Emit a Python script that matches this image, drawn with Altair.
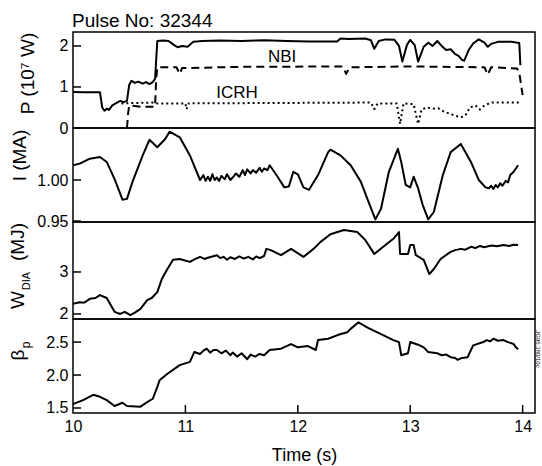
import altair as alt
import pandas as pd

FONT = "Liberation Sans"

# ---------------- data: (time s, value) ----------------
# Panel 1: heating power P (10^7 W)
p_total = [(10.00, 0.88), (10.10, 0.87), (10.24, 0.87), (10.26, 0.50), (10.28, 0.42),
           (10.30, 0.47), (10.32, 0.44), (10.35, 0.55), (10.38, 0.60), (10.42, 0.66),
           (10.45, 0.63), (10.48, 0.66), (10.50, 1.05), (10.52, 1.15), (10.55, 1.10),
           (10.58, 1.13), (10.62, 1.08), (10.65, 1.12), (10.68, 1.07), (10.71, 1.12),
           (10.73, 1.20), (10.75, 2.12), (10.80, 2.13), (10.85, 2.12), (10.90, 2.02),
           (10.93, 1.97), (10.97, 2.00), (11.02, 1.98), (11.07, 2.10), (11.15, 2.12),
           (11.30, 2.13), (11.50, 2.12), (11.70, 2.14), (11.90, 2.12), (12.10, 2.11),
           (12.35, 2.11), (12.38, 2.18), (12.45, 2.17), (12.60, 2.18), (12.65, 2.14),
           (12.68, 1.93), (12.72, 2.12), (12.78, 2.16), (12.86, 2.15), (12.90, 2.00),
           (12.93, 1.62), (12.97, 2.02), (13.00, 2.15), (13.04, 2.02), (13.07, 1.62),
           (13.12, 1.98), (13.16, 2.08), (13.20, 2.00), (13.24, 2.12), (13.28, 2.00),
           (13.32, 1.90), (13.36, 1.92), (13.40, 1.80), (13.43, 1.76), (13.46, 1.66),
           (13.48, 1.64), (13.52, 1.90), (13.56, 2.06), (13.61, 2.16), (13.66, 2.08),
           (13.69, 1.98), (13.72, 2.05), (13.78, 2.10), (13.90, 2.10), (13.97, 2.07),
           (13.98, 1.53)]
p_nbi = [(10.48, 0.00), (10.49, 0.35), (10.50, 0.55), (10.60, 0.52), (10.73, 0.52),
         (10.74, 1.20), (10.75, 1.48), (10.92, 1.48), (10.95, 1.32), (10.97, 1.46),
         (11.50, 1.49), (12.40, 1.50), (12.43, 1.32), (12.46, 1.48), (13.00, 1.50),
         (13.66, 1.48), (13.69, 1.30), (13.72, 1.48), (13.95, 1.45), (13.97, 1.35),
         (14.00, 0.80)]
p_icrh = [(10.43, 0.60), (10.70, 0.62), (10.75, 0.60), (11.00, 0.60), (11.01, 0.46),
          (11.03, 0.60), (12.65, 0.62), (12.68, 0.46), (12.71, 0.60), (12.88, 0.60),
          (12.91, 0.10), (12.94, 0.60), (13.03, 0.58), (13.07, 0.10), (13.10, 0.45),
          (13.15, 0.50), (13.20, 0.47), (13.25, 0.48), (13.30, 0.40), (13.35, 0.35),
          (13.40, 0.30), (13.45, 0.26), (13.49, 0.30), (13.53, 0.50), (13.58, 0.55),
          (13.62, 0.45), (13.66, 0.55), (13.72, 0.62), (13.98, 0.62)]

# Panel 2: plasma current I (MA)
current = [(10.00, 1.018), (10.06, 1.020), (10.15, 1.026), (10.24, 1.028), (10.30, 1.022),
           (10.37, 1.001), (10.44, 0.976), (10.48, 0.977), (10.53, 0.998), (10.62, 1.030),
           (10.68, 1.049), (10.75, 1.040), (10.82, 1.050), (10.86, 1.059), (10.95, 1.052),
           (11.04, 1.030), (11.13, 1.000), (11.16, 1.006), (11.18, 0.999), (11.20, 1.004),
           (11.22, 0.999), (11.24, 1.007), (11.26, 1.000), (11.28, 1.003), (11.30, 0.999),
           (11.32, 1.005), (11.35, 1.001), (11.37, 1.007), (11.40, 1.000), (11.42, 1.003),
           (11.45, 1.008), (11.48, 1.004), (11.51, 1.012), (11.53, 1.006), (11.55, 1.013),
           (11.58, 1.008), (11.60, 1.012), (11.63, 1.009), (11.66, 1.015), (11.68, 1.010),
           (11.70, 1.014), (11.73, 1.012), (11.75, 1.018), (11.82, 1.004), (11.88, 0.991),
           (11.92, 0.992), (11.96, 1.010), (12.00, 1.007), (12.05, 0.991), (12.10, 0.988),
           (12.18, 1.006), (12.27, 1.034), (12.29, 1.037), (12.38, 1.030), (12.47, 1.018),
           (12.56, 0.998), (12.63, 0.973), (12.69, 0.952), (12.74, 0.965), (12.81, 1.010),
           (12.89, 1.038), (12.92, 1.022), (12.96, 0.994), (13.00, 0.991), (13.03, 1.004),
           (13.07, 0.990), (13.11, 0.970), (13.16, 0.952), (13.21, 0.961), (13.29, 1.006),
           (13.36, 1.034), (13.45, 1.044), (13.54, 1.022), (13.61, 1.000), (13.67, 0.991),
           (13.70, 0.990), (13.72, 0.993), (13.74, 0.989), (13.76, 0.994), (13.78, 0.991),
           (13.80, 0.996), (13.82, 0.993), (13.85, 0.999), (13.87, 0.997), (13.89, 1.006),
           (13.92, 1.010), (13.94, 1.014), (13.96, 1.018)]

# Panel 3: diamagnetic energy W_DIA (MJ)
energy = [(10.00, 2.24), (10.06, 2.28), (10.10, 2.27), (10.15, 2.36), (10.20, 2.38),
          (10.24, 2.45), (10.30, 2.38), (10.37, 2.05), (10.42, 2.00), (10.46, 2.05),
          (10.51, 1.97), (10.55, 2.03), (10.60, 2.12), (10.66, 2.33), (10.70, 2.38),
          (10.75, 2.52), (10.79, 2.83), (10.84, 3.07), (10.89, 3.29), (10.95, 3.31),
          (11.04, 3.24), (11.08, 3.30), (11.13, 3.36), (11.17, 3.31), (11.20, 3.34),
          (11.24, 3.37), (11.28, 3.40), (11.31, 3.33), (11.34, 3.36), (11.37, 3.29),
          (11.40, 3.35), (11.44, 3.31), (11.48, 3.37), (11.52, 3.32), (11.56, 3.36),
          (11.60, 3.30), (11.63, 3.37), (11.66, 3.33), (11.70, 3.38), (11.72, 3.55),
          (11.76, 3.52), (11.85, 3.40), (11.94, 3.55), (12.05, 3.36), (12.14, 3.55),
          (12.20, 3.71), (12.29, 3.90), (12.41, 4.00), (12.53, 3.95), (12.60, 3.76),
          (12.68, 3.43), (12.76, 3.60), (12.85, 3.79), (12.90, 3.95), (12.91, 3.43),
          (12.98, 3.43), (13.00, 3.64), (13.03, 3.64), (13.05, 3.40), (13.12, 3.29),
          (13.17, 2.95), (13.21, 3.07), (13.27, 3.31), (13.36, 3.48), (13.40, 3.52),
          (13.45, 3.55), (13.49, 3.53), (13.54, 3.60), (13.58, 3.57), (13.62, 3.62),
          (13.66, 3.59), (13.69, 3.61), (13.73, 3.63), (13.77, 3.61), (13.83, 3.64),
          (13.88, 3.62), (13.92, 3.65), (13.96, 3.64)]

# Panel 4: poloidal beta
beta = [(10.00, 1.56), (10.09, 1.62), (10.18, 1.70), (10.24, 1.67), (10.30, 1.62),
        (10.37, 1.53), (10.44, 1.58), (10.48, 1.53), (10.60, 1.52), (10.66, 1.59),
        (10.71, 1.64), (10.75, 1.82), (10.77, 1.92), (10.84, 2.02), (10.95, 2.15),
        (11.04, 2.20), (11.08, 2.35), (11.13, 2.32), (11.16, 2.37), (11.19, 2.40),
        (11.22, 2.34), (11.25, 2.38), (11.28, 2.38), (11.32, 2.33), (11.36, 2.37),
        (11.40, 2.30), (11.42, 2.34), (11.46, 2.28), (11.50, 2.33), (11.55, 2.24),
        (11.58, 2.31), (11.62, 2.28), (11.66, 2.32), (11.70, 2.30), (11.75, 2.38),
        (11.85, 2.40), (11.94, 2.47), (12.00, 2.42), (12.09, 2.44), (12.16, 2.38),
        (12.18, 2.53), (12.27, 2.55), (12.36, 2.61), (12.44, 2.65), (12.47, 2.70),
        (12.54, 2.80), (12.62, 2.72), (12.74, 2.62), (12.85, 2.53), (12.90, 2.50),
        (12.92, 2.30), (12.98, 2.33), (13.00, 2.50), (13.07, 2.46), (13.12, 2.42),
        (13.16, 2.35), (13.24, 2.33), (13.28, 2.30), (13.32, 2.31), (13.36, 2.27),
        (13.40, 2.26), (13.42, 2.23), (13.46, 2.26), (13.51, 2.27), (13.56, 2.45),
        (13.65, 2.50), (13.68, 2.53), (13.71, 2.51), (13.74, 2.55), (13.78, 2.52),
        (13.83, 2.53), (13.87, 2.50), (13.92, 2.47), (13.94, 2.42), (13.96, 2.39)]

x_ticks = [10, 11, 12, 13, 14]
p_ticks = [0, 1, 2]
i_ticks = [0.95, 1.00]
w_ticks = [2, 3]
b_ticks = [1.5, 2.0, 2.5]

# ---------------- layout ----------------
PW = 462
XDOM = [10, 14.11]
TS = 19  # title font size


def yaxis(ticks, fmt, title="", tx=0, ty=0):
    kw = dict(values=ticks, format=fmt, domain=False, ticks=False, grid=False,
              labelPadding=5, labelFontSize=16, labelFlush=False, labelOverlap=False,
              title=title)
    if title:
        kw.update(titleFontSize=TS, titleX=tx, titleY=ty, titleAngle=270,
                  titleAlign="center", titleBaseline="middle")
    return alt.Axis(**kw)


def xenc(xaxis):
    return alt.X("t:Q", scale=alt.Scale(domain=XDOM, nice=False, zero=False), axis=xaxis)


def yenc(dom, ax):
    return alt.Y("y:Q", scale=alt.Scale(domain=dom, nice=False, zero=False), axis=ax)


def line(pairs, dom, ax, xaxis=None, dash=None, width=2.0):
    df = pd.DataFrame(pairs, columns=["t", "y"])
    mk = dict(color="black", strokeWidth=width, clip=True, strokeJoin="round")
    if dash is not None:
        mk["strokeDash"] = dash
    return alt.Chart(df).mark_line(**mk).encode(x=xenc(xaxis), y=yenc(dom, ax))


def yticks(vals, dom, ax):
    df = pd.DataFrame({"y": vals})
    return alt.Chart(df).mark_rule(color="black", strokeWidth=1.5).encode(
        y=yenc(dom, ax), x=alt.value(0), x2=alt.value(8))


def label(txt, x, y, size=18, angle=0, align="center", baseline="middle"):
    df = pd.DataFrame({"s": [txt]})
    return alt.Chart(df).mark_text(fontSize=size, angle=angle, align=align,
                                   baseline=baseline, color="black", font=FONT).encode(
        x=alt.value(x), y=alt.value(y), text="s:N")


def dlabel(txt, t, v, dom, ax, size=17):
    df = pd.DataFrame({"s": [txt], "t": [t], "y": [v]})
    return alt.Chart(df).mark_text(fontSize=size, color="black", font=FONT).encode(
        x=xenc(None), y=yenc(dom, ax), text="s:N")


# Panel 1
d1 = [0, 2.34]
ax1 = yaxis(p_ticks, "d", "P (10⁷ W)", -46, 41)
p1 = alt.layer(
    line(p_total, d1, ax1),
    line(p_nbi, d1, ax1, dash=[8, 5]),
    line(p_icrh, d1, ax1, dash=[2, 3]),
    yticks(p_ticks, d1, ax1),
    dlabel("NBI", 11.86, 1.74, d1, ax1),
    dlabel("ICRH", 11.46, 0.85, d1, ax1),
    label("Pulse No: 32344", -1, -5, size=19, align="left", baseline="alphabetic"),
).properties(width=PW, height=96)

# Panel 2
d2 = [0.9488, 1.0634]
ax2 = yaxis(i_ticks, ".2f", "I (MA)", -54, 27)
p2 = alt.layer(
    line(current, d2, ax2),
    yticks(i_ticks, d2, ax2),
).properties(width=PW, height=94)

# Panel 3
d3 = [1.88, 4.19]
ax3 = yaxis(w_ticks, "d")
p3 = alt.layer(
    line(energy, d3, ax3),
    yticks(w_ticks, d3, ax3),
    label("W", -55, 78, size=TS, angle=270),
    label("DIA", -46, 59, size=11, angle=270),
    label("(MJ)", -55, 20, size=TS, angle=270),
).properties(width=PW, height=97)

# Panel 4
d4 = [1.424, 2.85]
ax4 = yaxis(b_ticks, ".1f")
xaxis = alt.Axis(values=x_ticks, format="d", title="Time (s)", domain=False, ticks=False,
                 grid=False, labelFontSize=16, titleFontSize=18, labelPadding=5,
                 titlePadding=12, labelFlush=False)
xt_df = pd.DataFrame({"t": x_ticks[1:]})
p4 = alt.layer(
    line(beta, d4, ax4, xaxis=xaxis),
    yticks(b_ticks, d4, ax4),
    alt.Chart(xt_df).mark_rule(color="black", strokeWidth=1.5).encode(
        x=xenc(xaxis), y=alt.value(86), y2=alt.value(94)),
    label("β", -55, 36, size=TS, angle=270),
    label("p", -47, 26, size=12, angle=270),
    label("JG95.380/10c", 465, 30, size=6, angle=90),
).properties(width=PW, height=94)

chart = alt.vconcat(p1, p2, p3, p4, spacing=0, bounds="flush").properties(
    padding={"left": 8, "top": 11, "right": 0, "bottom": 0}
).configure_view(stroke="black", strokeWidth=1.5).configure_axis(
    labelFont=FONT, titleFont=FONT, labelColor="black", titleColor="black",
    titleFontWeight="normal"
).configure_text(font=FONT)

chart.save("out.html", embed_options={"renderer": "svg", "actions": False})
